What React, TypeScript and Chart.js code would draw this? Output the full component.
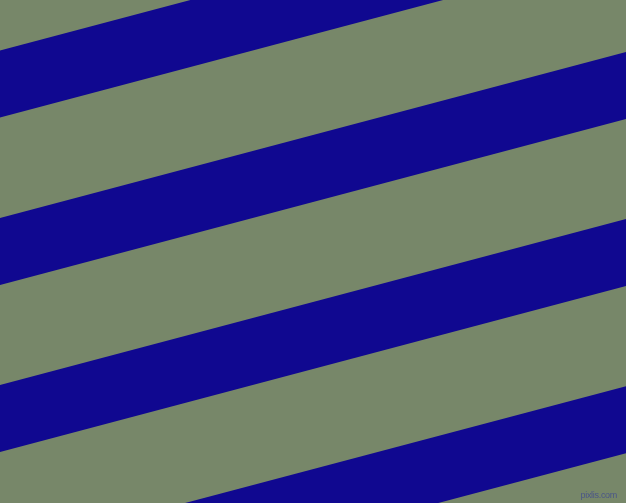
import { useEffect, useRef } from 'react';
import { Chart, registerables } from 'chart.js';

Chart.register(...registerables);

// x positions of the two ends of every stripe edge
const xEnds = [0, 626];
// top edge of each blue stripe, at the left and at the right end
const stripeTopLeft = [50.5, 218, 385, 552];
const stripeTopRight = [-115.5, 52, 219, 386.3];
// vertical thickness of a stripe
const stripeThickness = 67;

const BACK = '#778769';
const BLUE = '#100890';

export default function App() {
  const canvasRef = useRef<HTMLCanvasElement>(null);

  useEffect(() => {
    if (!canvasRef.current) return;
    const ctx = canvasRef.current.getContext('2d');
    if (!ctx) return;

    const datasets: any[] = [];
    stripeTopLeft.forEach((top, i) => {
      const topRight = stripeTopRight[i];
      datasets.push({
        data: [
          { x: xEnds[0], y: top },
          { x: xEnds[1], y: topRight },
        ],
        borderWidth: 0,
        pointRadius: 0,
        fill: false,
      });
      datasets.push({
        data: [
          { x: xEnds[0], y: top + stripeThickness },
          { x: xEnds[1], y: topRight + stripeThickness },
        ],
        borderWidth: 0,
        pointRadius: 0,
        backgroundColor: BLUE,
        fill: '-1',
      });
    });

    const chart = new Chart(ctx, {
      type: 'line',
      data: { datasets },
      options: {
        animation: false,
        responsive: true,
        maintainAspectRatio: false,
        layout: { padding: 0 },
        plugins: { legend: { display: false }, tooltip: { enabled: false } },
        scales: {
          x: { type: 'linear', min: 0, max: 626, display: false },
          y: { type: 'linear', min: 0, max: 503, reverse: true, display: false },
        },
      },
    });

    return () => chart.destroy();
  }, []);

  return (
    <div style={{ position: 'fixed', left: 0, top: 0, width: 626, height: 503, background: BACK }}>
      <canvas ref={canvasRef} />
      <span
        style={{
          position: 'absolute',
          right: 9,
          bottom: 3,
          fontFamily: 'Liberation Sans, sans-serif',
          fontSize: 9,
          letterSpacing: -0.3,
          color: '#4a5688',
        }}
      >
        pixlis.com
      </span>
    </div>
  );
}
